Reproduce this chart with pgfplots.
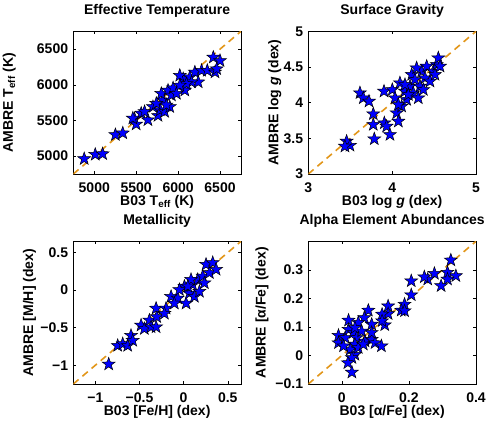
\documentclass[border=0pt]{standalone}
\usepackage{fontspec}
\setmainfont{Liberation Sans}
\usepackage{pgfplots}
\pgfplotsset{compat=1.18}

\definecolor{starblue}{RGB}{0,0,255}
\definecolor{diagorange}{RGB}{226,150,25}

% filled five-pointed star
\pgfdeclareplotmark{pstar}{%
  \pgfpathmoveto{\pgfpointpolar{90}{\pgfplotmarksize}}%
  \pgfpathlineto{\pgfpointpolar{126}{0.4*\pgfplotmarksize}}%
  \pgfpathlineto{\pgfpointpolar{162}{\pgfplotmarksize}}%
  \pgfpathlineto{\pgfpointpolar{198}{0.4*\pgfplotmarksize}}%
  \pgfpathlineto{\pgfpointpolar{234}{\pgfplotmarksize}}%
  \pgfpathlineto{\pgfpointpolar{270}{0.4*\pgfplotmarksize}}%
  \pgfpathlineto{\pgfpointpolar{306}{\pgfplotmarksize}}%
  \pgfpathlineto{\pgfpointpolar{342}{0.4*\pgfplotmarksize}}%
  \pgfpathlineto{\pgfpointpolar{18}{\pgfplotmarksize}}%
  \pgfpathlineto{\pgfpointpolar{54}{0.4*\pgfplotmarksize}}%
  \pgfpathclose
  \pgfusepathqfillstroke}

\pgfplotsset{
  panel/.style={
    scale only axis, width=167.7pt, height=142.7pt, anchor=south west,
    tick align=inside, major tick length=3pt,
    axis line style={line width=0.9pt}, tick style={line width=0.5pt, black},
    font=\fontsize{14}{16}\selectfont\bfseries,
    scaled ticks=false,
    title style={at={(0.5,1)}, anchor=base, yshift=11pt, inner sep=0pt},
    xlabel style={at={(axis description cs:0.5,0)}, anchor=base, yshift=-31.5pt, inner sep=0pt},
    xticklabel style={anchor=base, yshift=-18.5pt, inner sep=0pt},
    yticklabel style={anchor=east, xshift=-5pt, inner sep=0pt},
    ylabel style={anchor=base, inner sep=0pt},
  },
  stars/.style={only marks, mark=pstar, mark size=6.8pt,
    mark options={fill=starblue, draw=black, line width=0.5pt}},
  diag/.style={diagorange, line width=1.6pt, dash pattern=on 7pt off 5pt},
}

\begin{document}
\begin{tikzpicture}
\useasboundingbox (0,0) rectangle (490pt,-426pt);

% effective temperature
\begin{axis}[panel, at={(73.3pt,-174pt)},
  xmin=4750, xmax=6750, ymin=4750, ymax=6750,
  xtick={5000,5500,6000,6500}, xticklabels={5000,5500,6000,6500},
  ytick={5000,5500,6000,6500}, yticklabels={5000,5500,6000,6500},
  title={Effective Temperature},
  xlabel={B03 T\textsubscript{eff} (K)},
  ylabel={AMBRE T\textsubscript{eff} (K)},
  ylabel style={at={(axis description cs:-0.36,0.5)}},
]
\addplot[diag] coordinates {(4750,4750)(6750,6750)};
\addplot[stars] coordinates {
(4880,4963)(5012,5023)(5100,5032)(5252,5300)(5340,5323)(5480,5522)
(5500,5448)(5560,5600)(5640,5508)(5700,5692)(5760,5568)(5788,5646)
(5840,5623)(5820,5785)(5900,5692)(5800,5877)(5880,5923)(5920,5854)
(5940,5955)(5860,5715)(5740,5738)(5600,5623)(5460,5531)(6060,6085)
(6080,5923)(6140,6108)(6200,6177)(6240,6038)(6280,6200)(6348,6200)
(6440,6177)(6420,6385)(6500,6338)(6460,6223)(6160,6038)(6100,6015)
(6020,5992)(5980,5877)(6020,6131)};
\end{axis}

% surface gravity
\begin{axis}[panel, at={(308.3pt,-174pt)},
  xmin=3, xmax=5, ymin=3, ymax=5,
  xtick={3,4,5}, xticklabels={3,4,5},
  ytick={3,3.5,4,4.5,5}, yticklabels={3,3.5,4,4.5,5},
  title={Surface Gravity},
  xlabel={B03 log \textit{g} (dex)},
  ylabel={AMBRE log \textit{g} (dex)},
  ylabel style={at={(axis description cs:-0.179,0.5)}},
]
\addplot[diag] coordinates {(3,3)(5,5)};
\addplot[stars] coordinates {
(3.457,3.458)(3.497,3.400)(3.437,3.388)(3.616,4.136)(3.656,4.065)
(3.724,4.019)(3.775,3.841)(3.775,3.692)(3.787,3.491)(3.907,3.715)
(3.934,3.668)(3.974,3.551)(3.903,4.159)(4.002,4.182)(4.034,4.065)
(4.054,3.855)(4.074,3.738)(4.093,4.276)(4.113,3.949)(4.153,4.159)
(4.173,4.042)(4.213,4.229)(4.233,4.393)(4.272,4.322)(4.252,4.136)
(4.312,4.065)(4.332,4.229)(4.352,4.439)(4.392,4.346)(4.412,4.509)
(4.451,4.299)(4.491,4.439)(4.531,4.533)(4.551,4.626)(4.571,4.509)
(4.511,4.393)(4.153,4.252)(4.292,4.486)(4.372,4.182)(4.193,4.112)
(4.074,3.972)};
\end{axis}

% metallicity
\begin{axis}[panel, at={(73.3pt,-384pt)},
  xmin=-1.25, xmax=0.65, ymin=-1.25, ymax=0.65,
  xtick={-1,-0.5,0,0.5}, xticklabels={−1,−0.5,0,0.5},
  ytick={-1,-0.5,0,0.5}, yticklabels={−1,−0.5,0,0.5},
  title={Metallicity},
  xlabel={B03 [Fe/H] (dex)},
  ylabel={AMBRE [M/H] (dex)},
  ylabel style={at={(axis description cs:-0.24,0.5)}},
]
\addplot[diag] coordinates {(-1.25,-1.25)(0.65,0.65)};
\addplot[stars] coordinates {
(-0.849,-0.986)(-0.747,-0.739)(-0.690,-0.716)(-0.634,-0.739)(-0.596,-0.604)
(-0.577,-0.671)(-0.482,-0.468)(-0.445,-0.514)(-0.388,-0.401)(-0.369,-0.491)
(-0.312,-0.491)(-0.305,-0.356)(-0.312,-0.243)(-0.199,-0.243)(-0.218,-0.311)
(-0.142,-0.086)(-0.067,-0.108)(-0.105,-0.176)(0.009,0.050)(0.028,-0.176)
(0.066,-0.041)(0.103,0.072)(0.122,-0.086)(0.179,-0.018)(0.160,0.140)
(0.216,0.185)(0.254,0.342)(0.292,0.230)(0.330,0.365)(0.368,0.275)
(0.235,0.095)(-0.048,0.005)(0.084,0.140)(0.047,0.050)};
\end{axis}

% alpha elements
\begin{axis}[panel, at={(308.3pt,-384pt)},
  xmin=-0.1, xmax=0.4, ymin=-0.1, ymax=0.4,
  xtick={0,0.2,0.4}, xticklabels={0,0.2,0.4},
  ytick={-0.1,0,0.1,0.2,0.3}, yticklabels={−0.1,0,0.1,0.2,0.3},
  title={Alpha Element Abundances},
  xlabel={B03 [α/Fe] (dex)},
  ylabel={AMBRE [α/Fe] (dex)},
  ylabel style={at={(axis description cs:-0.254,0.5)}},
]
\addplot[diag] coordinates {(-0.1,-0.1)(0.4,0.4)};
\addplot[stars] coordinates {
(0.325,0.334)(0.340,0.279)(0.315,0.291)(0.315,0.267)(0.296,0.244)
(0.276,0.287)(0.256,0.267)(0.246,0.275)(0.207,0.261)(0.207,0.212)
(0.187,0.179)(0.177,0.158)(0.187,0.156)(0.138,0.173)(0.138,0.146)
(0.120,0.144)(0.128,0.107)(0.120,0.121)(0.089,0.109)(0.079,0.158)
(0.067,0.132)(0.049,0.115)(0.020,0.123)(-0.010,0.070)(-0.010,0.044)
(0.010,0.062)(0.020,0.091)(0.034,0.080)(0.044,0.062)(0.059,0.085)
(0.069,0.050)(0.089,0.056)(0.099,0.044)(0.118,0.033)(0.039,0.039)
(0.025,0.021)(0.039,0.003)(0.030,-0.008)(0.018,-0.026)(0.030,-0.059)
(0.049,0.027)(0.064,0.039)(0.005,0.033)(0.089,0.080)(0.039,0.097)};
\end{axis}
\end{tikzpicture}
\end{document}
